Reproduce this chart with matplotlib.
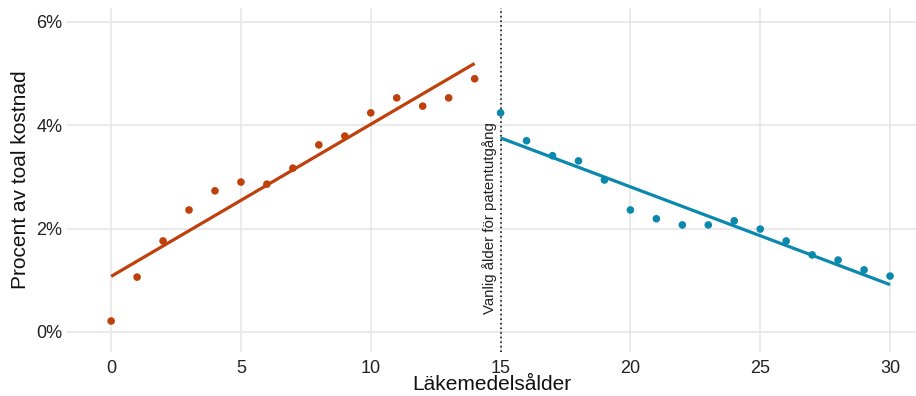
import numpy as np
import matplotlib
matplotlib.use("Agg")
import matplotlib.pyplot as plt
from matplotlib.ticker import FuncFormatter

plt.rcParams['font.family'] = ['Liberation Sans', 'DejaVu Sans']

# Data (percent of total cost by drug age)
age_pre = [0, 1, 2, 3, 4, 5, 6, 7, 8, 9, 10, 11, 12, 13, 14]
pct_pre = [0.21, 1.06, 1.76, 2.36, 2.73, 2.90, 2.86, 3.17, 3.62, 3.79, 4.24, 4.53, 4.37, 4.53, 4.90]
age_post = [15, 16, 17, 18, 19, 20, 21, 22, 23, 24, 25, 26, 27, 28, 29, 30]
pct_post = [4.24, 3.70, 3.41, 3.31, 2.94, 2.36, 2.19, 2.07, 2.07, 2.15, 1.99, 1.76, 1.49, 1.39, 1.20, 1.08]
patent_age = 15
annot = "Vanlig ålder för patentutgång"
xticks = [0, 5, 10, 15, 20, 25, 30]
yticks = [0, 2, 4, 6]

c_pre = "#C0400C"
c_post = "#0A88AE"

fig = plt.figure(figsize=(9.16, 3.96), dpi=100)
ax = fig.add_axes([67/916, 44/396, 1 - 67/916, (352 - 8)/396])

for xs, ys, c in [(age_pre, pct_pre, c_pre), (age_post, pct_post, c_post)]:
    xs = np.array(xs, float); ys = np.array(ys, float)
    b, a = np.polyfit(xs, ys, 1)
    xl = np.array([xs.min(), xs.max()])
    ax.plot(xl, a + b * xl, color=c, lw=2.3, solid_capstyle='butt', zorder=3)
    ax.scatter(xs, ys, s=30, color=c, edgecolors='none', zorder=4)

ax.axvline(patent_age, color='black', lw=1.1, ls=(0, (1, 2)), zorder=2)
ax.text(patent_age - 0.15, 0.35, annot, rotation=90, ha='right', va='bottom',
        fontsize=10.8, color='#222222')

ax.set_xlim(-1.7, 31.0)
ax.set_ylim(-0.39, 6.27)
ax.set_xticks(xticks)
ax.set_yticks(yticks)
ax.yaxis.set_major_formatter(FuncFormatter(lambda v, p: f"{v:.0f}%"))
ax.tick_params(length=0, labelsize=13, colors='#222222')
ax.tick_params(axis='y', pad=3.5)
ax.tick_params(axis='x', pad=5.5)
for s in ax.spines.values():
    s.set_visible(False)
ax.grid(True, color='#E6E6E6', lw=1.2)
ax.set_axisbelow(True)
ax.set_xlabel("Läkemedelsålder", fontsize=15, color='#111111', labelpad=-1)
ax.set_ylabel("Procent av toal kostnad", fontsize=15, color='#111111', labelpad=4)

fig.savefig("out.png", dpi=100)
